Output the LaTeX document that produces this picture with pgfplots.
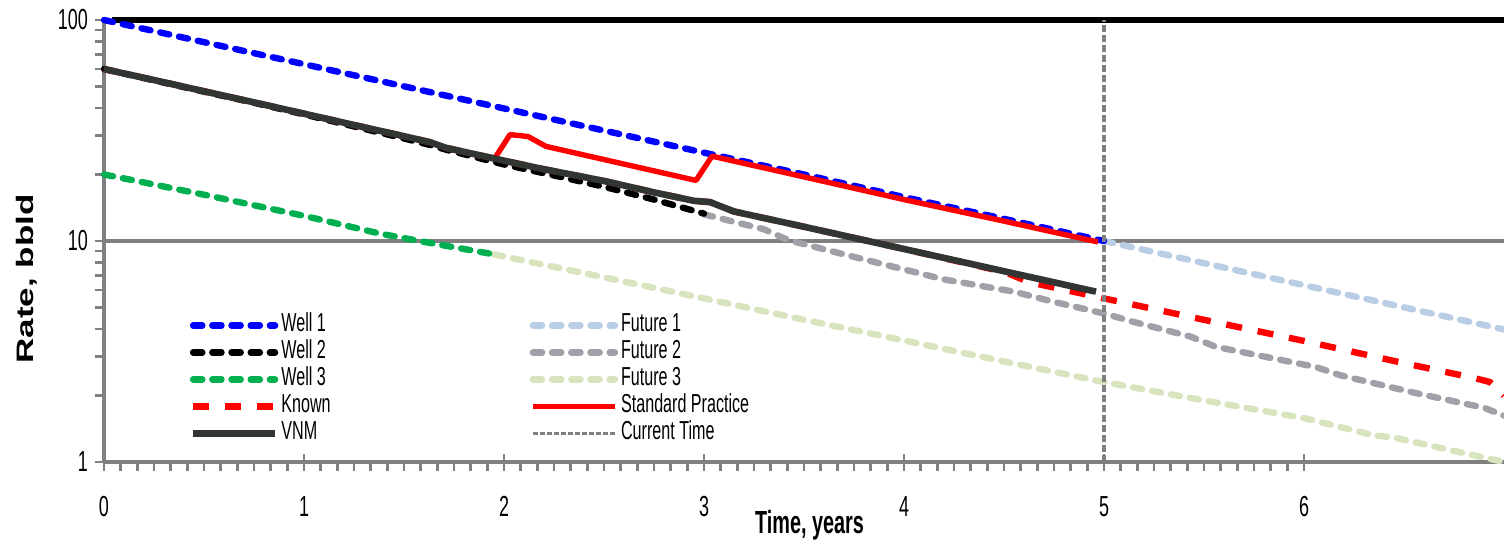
\documentclass[border=0pt]{standalone}
\usepackage{fontspec}
\setmainfont{Liberation Sans}
\newfontfamily\narrowfont[FakeStretch=0.62]{Liberation Sans}
\usepackage{graphicx}
\usepackage{pgfplots}
\pgfplotsset{compat=1.18}
\definecolor{w1}{RGB}{0,0,255}
\definecolor{w3}{RGB}{0,176,80}
\definecolor{vnm}{RGB}{50,54,50}
\definecolor{f1}{RGB}{185,205,229}
\definecolor{f2}{RGB}{160,160,168}
\definecolor{f3}{RGB}{215,228,189}
\definecolor{axgray}{RGB}{128,128,128}
\tikzset{
  dotline/.style={line width=3.2pt, line cap=round, dash pattern=on 4.6pt off 5pt},
  knownline/.style={red, line width=3.2pt, dash pattern=on 8pt off 8pt},
  vnmline/.style={vnm, line width=3.3pt, line join=round},
  stdline/.style={red, line width=2.7pt, line join=round},
  ctline/.style={axgray, line width=1.6pt, dash pattern=on 3.5pt off 1.5pt},
}
\begin{document}
\begin{tikzpicture}
\path[use as bounding box] (-52pt,-40pt) rectangle (700pt,231pt);
\begin{axis}[
  scale only axis,
  width=700pt, height=221pt,
  xmin=0, xmax=7, ymin=1, ymax=100,
  ymode=log,
  clip=false,
  axis x line=bottom, axis y line=left,
  axis line style={axgray, line width=2pt, -},
  tick style={axgray, line width=1.3pt},
  tick align=outside,
  major tick length=4.5pt, minor tick length=4.5pt,
  xtick={0,1,2,3,4,5,6}, xticklabels={0,1,2,3,4,5,6},
  minor x tick num=11,
  extra x ticks={1,2,3,4,5,6}, extra x tick labels={},
  extra x tick style={tick align=inside, major tick length=4pt},
  ytick={1,10,100}, yticklabels={1,10,100},
  minor ytick={2,3,4,5,6,7,8,9,20,30,40,50,60,70,80,90},
  /pgf/number format/assume math mode=true,
  xticklabel style={font=\narrowfont\fontsize{14.5}{14.5}\selectfont, yshift=-9pt},
  yticklabel style={font=\narrowfont\fontsize{14.5}{14.5}\selectfont},
  xlabel={\narrowfont\bfseries\fontsize{16}{16}\selectfont Time, years},
  xlabel style={at={(axis description cs:0.504,-0.1425)}, anchor=center},
  ylabel={\scalebox{1}[0.68]{\bfseries\fontsize{17.5}{17.5}\selectfont Rate, bbld}},
  ylabel style={at={(axis description cs:-0.055,0.414)}, anchor=center},
  legend columns=2,
  legend cell align=left,
  legend image code/.code={\draw[#1] (0pt,0pt) -- (41pt,0pt);},
  legend style={at={(axis description cs:0.061,0.3405)}, anchor=north west,
    draw=none, fill=none, inner sep=0pt, row sep=0pt,
    font=\narrowfont\fontsize{13}{13}\selectfont,
    nodes={inner sep=1.5pt, text height=8.5pt, text depth=2pt},
    /tikz/column 2/.style={column sep=98pt}},
]
% reference lines
\addplot[axgray, line width=2pt, forget plot] coordinates {(0,10) (7,10)};
\addplot[black, line width=3pt, forget plot] coordinates {(0.04,100) (7,100)};
% Future 3
\addplot[f3, dotline, forget plot] coordinates {
(1.95,8.7) (2.5,6.85) (3,5.5) (3.5,4.4) (4,3.55) (4.5,2.85) (5,2.3) (5.5,1.9) (6,1.58) (6.35,1.32) (6.45,1.29) (7,1.0)};
% Future 2
\addplot[f2, dotline, forget plot] coordinates {
(3,13.2) (3.3,11.3) (3.42,10.1) (3.7,8.7) (4.2,6.7) (4.55,5.9) (4.75,5.3) (5,4.7) (5.15,4.3) (5.43,3.7) (5.56,3.32) (6.06,2.69) (6.18,2.47) (6.56,2.05) (6.9,1.76) (7,1.62)};
% Future 1
\addplot[f1, dotline, forget plot] coordinates {
(5,10) (5.5,7.94) (6,6.31) (6.5,5.01) (7,3.98)};
% Well 3
\addplot[w3, dotline, forget plot] coordinates {
(0,20) (0.15,18.8) (0.5,16.2) (1,13.0) (1.38,10.8) (1.63,9.8) (1.95,8.7)};
% Well 1
\addplot[w1, dotline, forget plot] coordinates {
(0,100) (0.5,79.4) (1,63.1) (1.5,50.1) (2,39.8) (2.5,31.6) (3,25.1) (3.5,20.0) (4,15.8) (4.5,12.6) (5,10.0)};
% Well 2
\addplot[black, dotline, forget plot] coordinates {
(0,60) (0.25,53.3) (0.5,47.4) (0.75,42.2) (1,37.4) (1.25,33.0) (1.5,29.1) (1.63,27.2) (1.71,25.9) (2,22.2) (2.25,19.8) (2.5,17.6) (2.75,15.4) (3,13.3)};
% Known
\addplot[knownline, forget plot] coordinates {
(0,60) (0.25,53.5) (0.5,47.6) (0.75,42.4) (1,37.7) (1.25,33.5) (1.5,29.8) (1.63,28.0) (1.71,26.4) (2,23.1) (2.18,21.3) (2.5,18.7) (2.75,16.6) (2.95,15.2) (3.03,15.0) (3.15,13.6) (3.5,11.6) (4,9.2) (4.5,7.25) (4.63,6.5) (5,5.5) (5.5,4.4) (6,3.53) (6.5,2.8) (6.85,2.4) (6.93,2.3) (7,2.0)};
% Standard Practice
\addplot[stdline, forget plot] coordinates {
(1.95,23.4) (2.03,30.3) (2.12,29.7) (2.21,26.8) (2.96,18.8) (3.04,24.2) (3.5,19.5) (4,15.4) (4.5,12.3) (4.97,9.9)};
% VNM
\addplot[vnmline, forget plot] coordinates {
(0,60) (0.25,53.5) (0.5,47.6) (0.75,42.4) (1,37.7) (1.25,33.5) (1.5,29.8) (1.63,28.0) (1.71,26.4) (2,23.1) (2.18,21.3) (2.5,18.7) (2.75,16.6) (2.95,15.2) (3.03,15.0) (3.15,13.6) (3.5,11.6) (4,9.2) (4.5,7.3) (4.96,5.9)};
% Current Time
\addplot[ctline, forget plot] coordinates {(5,1) (5,100)};
% legend
\addlegendimage{w1, dotline}\addlegendentry{Well 1}
\addlegendimage{f1, dotline}\addlegendentry{Future 1}
\addlegendimage{black, dotline}\addlegendentry{Well 2}
\addlegendimage{f2, dotline}\addlegendentry{Future 2}
\addlegendimage{w3, dotline}\addlegendentry{Well 3}
\addlegendimage{f3, dotline}\addlegendentry{Future 3}
\addlegendimage{knownline}\addlegendentry{Known}
\addlegendimage{stdline}\addlegendentry{Standard Practice}
\addlegendimage{vnmline}\addlegendentry{VNM}
\addlegendimage{axgray, line width=1.2pt, dash pattern=on 2.5pt off 1pt}\addlegendentry{Current Time}
\end{axis}
\end{tikzpicture}
\end{document}
